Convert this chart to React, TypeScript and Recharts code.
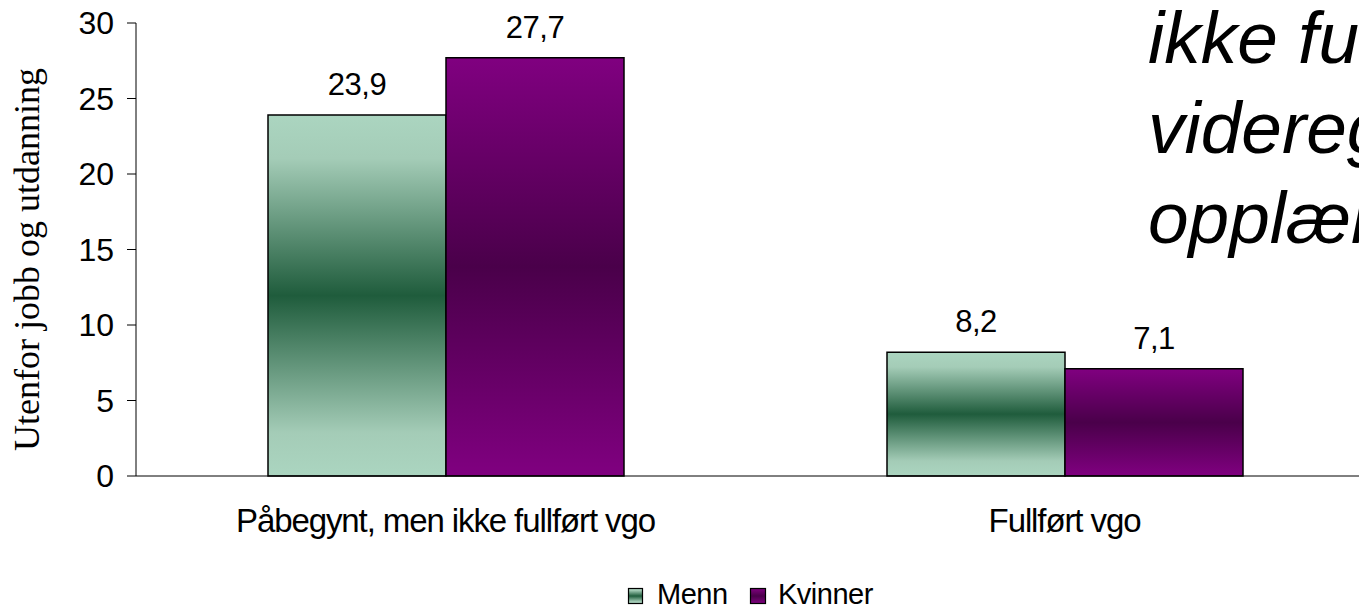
import { BarChart, Bar, XAxis, YAxis, Legend, LabelList } from "recharts";

const categories = ["Påbegynt, men ikke fullført vgo", "Fullført vgo"];
const menn = [23.9, 8.2];
const kvinner = [27.7, 7.1];
const yTicks = [0, 5, 10, 15, 20, 25, 30];
const edgeTicks = [0, 1, 2];
const titleLines = ["ikke fullført", "videregående", "opplæring"];

const data = categories.map((name, i) => ({ name, menn: menn[i], kvinner: kvinner[i] }));

const SANS = "'Liberation Sans', Arial, sans-serif";
const SERIF = "'Liberation Serif', 'Times New Roman', serif";

const fmt = (v: number) => v.toFixed(1).replace(".", ",");

function Gradients() {
  return (
    <defs>
      <linearGradient id="gMenn" x1="0" y1="0" x2="0" y2="1">
        <stop offset="0" stopColor="#abd5c0" />
        <stop offset="0.12" stopColor="#a4ccb7" />
        <stop offset="0.5" stopColor="#1f5c3c" />
        <stop offset="0.88" stopColor="#a4ccb7" />
        <stop offset="1" stopColor="#abd5c0" />
      </linearGradient>
      <linearGradient id="gKvinner" x1="0" y1="0" x2="0" y2="1">
        <stop offset="0" stopColor="#800080" />
        <stop offset="0.5" stopColor="#4a004a" />
        <stop offset="1" stopColor="#800080" />
      </linearGradient>
    </defs>
  );
}

function LegendContent() {
  return (
    <svg width={260} height={30} style={{ display: "block", overflow: "visible" }}>
      <Gradients />
      <rect x={0.5} y={8.5} width={14} height={15} fill="url(#gMenn)" stroke="#000" strokeWidth={1.2} />
      <text x={29} y={24} fontFamily={SANS} fontSize={29} fill="#000" letterSpacing={-0.5}>Menn</text>
      <rect x={122.5} y={8.5} width={15} height={15} fill="url(#gKvinner)" stroke="#000" strokeWidth={1.2} />
      <text x={150} y={24} fontFamily={SANS} fontSize={29} fill="#000" letterSpacing={-0.5}>Kvinner</text>
    </svg>
  );
}

function YLabel(props: any) {
  const vb = props.viewBox || {};
  const x = 39;
  const y = vb.y + vb.height / 2 + 10;
  return (
    <text x={x} y={y} transform={`rotate(-90, ${x}, ${y})`} textAnchor="middle" fontFamily={SERIF} fontSize={36} fill="#000">
      Utenfor jobb og utdanning
    </text>
  );
}

export default function App() {
  return (
    <div style={{ position: "absolute", left: 0, top: 0, width: 1359, height: 609, overflow: "hidden", background: "#fff" }}>
      <BarChart width={1374} height={609} data={data} margin={{ top: 23, right: 0, left: 0, bottom: 73 }} barGap={0} barSize={178}>
        <Gradients />
        <XAxis xAxisId="edge" type="number" domain={[0, categories.length]} ticks={edgeTicks} height={0}
          axisLine={false} tickSize={9} tickLine={{ stroke: "#000" }} tickFormatter={() => ""} />
        <XAxis xAxisId="cat" dataKey="name" height={60} axisLine={{ stroke: "#000" }} tickLine={false} tickSize={0} tickMargin={33}
          tick={{ fontFamily: SANS, fontSize: 33, fill: "#000", letterSpacing: -1.1 }} interval={0} />
        <YAxis domain={[0, 30]} ticks={yTicks} width={136} axisLine={{ stroke: "#000" }} tickLine={{ stroke: "#000" }} tickSize={9} tickMargin={13}
          tick={{ fontFamily: SANS, fontSize: 32, fill: "#000" }} label={<YLabel />} />
        <Legend layout="horizontal" verticalAlign="middle" align="center" content={<LegendContent />}
          wrapperStyle={{ top: 580, left: 628, width: 260, height: 30 }} />
        <Bar xAxisId="cat" dataKey="menn" name="Menn" fill="url(#gMenn)" stroke="#000" strokeWidth={1.5} isAnimationActive={false}>
          <LabelList dataKey="menn" position="top" offset={20} formatter={(v: any) => fmt(Number(v))}
            style={{ fontFamily: SANS, fontSize: 31, fill: "#000", letterSpacing: -0.5 }} />
        </Bar>
        <Bar xAxisId="cat" dataKey="kvinner" name="Kvinner" fill="url(#gKvinner)" stroke="#000" strokeWidth={1.5} isAnimationActive={false}>
          <LabelList dataKey="kvinner" position="top" offset={20} formatter={(v: any) => fmt(Number(v))}
            style={{ fontFamily: SANS, fontSize: 31, fill: "#000", letterSpacing: -0.5 }} />
        </Bar>
      </BarChart>
      <svg width={1359} height={609} style={{ position: "absolute", left: 0, top: 0, pointerEvents: "none" }}>
        {titleLines.map((t, i) => (
          <text key={t} x={1148} y={63 + i * 90} fontFamily={SANS} fontStyle="italic" fontSize={73} fill="#000">{t}</text>
        ))}
      </svg>
    </div>
  );
}
